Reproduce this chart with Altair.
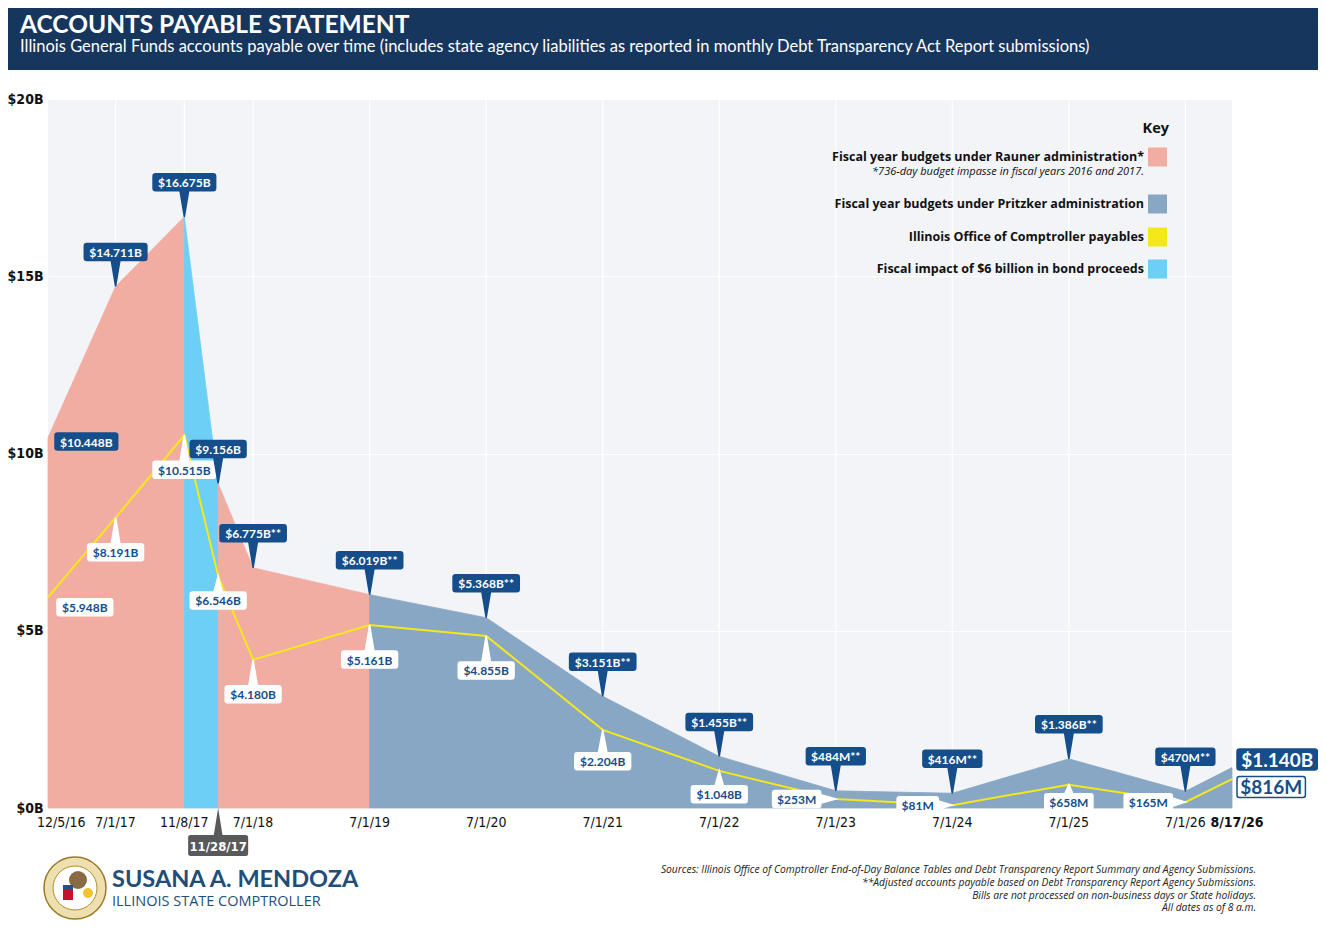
import altair as alt
import pandas as pd

# Dates along the timeline (the original spaces them schematically, not by calendar days)
dates = ["12/5/16", "7/1/17", "11/8/17", "11/28/17", "7/1/18", "7/1/19", "7/1/20",
         "7/1/21", "7/1/22", "7/1/23", "7/1/24", "7/1/25", "7/1/26", "8/17/26"]
timeline_pos = [0, 0.58, 1.17, 1.46, 1.76, 2.76, 3.76, 4.76, 5.76, 6.76, 7.76, 8.76,
                9.76, 10.16]

# Total accounts payable, $ billions
total_payables = [10.448, 14.711, 16.675, 9.156, 6.775, 6.019, 5.368, 3.151, 1.455,
                  0.484, 0.416, 1.386, 0.470, 1.140]
total_labels = ["$10.448B", "$14.711B", "$16.675B", "$9.156B", "$6.775B**", "$6.019B**",
                "$5.368B**", "$3.151B**", "$1.455B**", "$484M**", "$416M**", "$1.386B**",
                "$470M**", "$1.140B"]

# Illinois Office of Comptroller payables, $ billions
comptroller_payables = [5.948, 8.191, 10.515, 6.546, 4.180, 5.161, 4.855, 2.204, 1.048,
                        0.253, 0.081, 0.658, 0.165, 0.816]
comptroller_labels = ["$5.948B", "$8.191B", "$10.515B", "$6.546B", "$4.180B", "$5.161B",
                      "$4.855B", "$2.204B", "$1.048B", "$253M", "$81M", "$658M", "$165M",
                      "$816M"]

# shaded stretches: (period, first date index, last date index)
periods = [("Rauner", 0, 2), ("Bond", 2, 3), ("Rauner", 3, 5), ("Pritzker", 5, 13)]

key_labels = ["Fiscal year budgets under Rauner administration*",
              "Fiscal year budgets under Pritzker administration",
              "Illinois Office of Comptroller payables",
              "Fiscal impact of $6 billion in bond proceeds"]
key_note = "*736-day budget impasse in fiscal years 2016 and 2017."

sources = ["Sources: Illinois Office of Comptroller End-of-Day Balance Tables and Debt "
           "Transparency Report Summary and Agency Submissions.",
           "**Adjusted accounts payable based on Debt Transparency Report Agency Submissions.",
           "Bills are not processed on non-business days or State holidays.",
           "All dates as of 8 a.m."]

TITLE = "ACCOUNTS PAYABLE STATEMENT"
SUBTITLE = ("Illinois General Funds accounts payable over time (includes state agency "
            "liabilities as reported in monthly Debt Transparency Act Report submissions)")

PINK = "#F2ADA3"
SLATE = "#88A7C5"
CYAN = "#6DCFF5"
YELLOW = "#F4E81B"
NAVY = "#154E8A"
BANNER = "#17365D"
PLOT_BG = "#F2F4F8"
period_colors = {"Rauner": PINK, "Pritzker": SLATE, "Bond": CYAN}
key_colors = [PINK, SLATE, YELLOW, CYAN]

SANS = "Lato"
WIDE = "'Open Sans', Lato, sans-serif"
COND = "'DejaVu Sans Condensed', Roboto, sans-serif"

W, H = 1184, 709
PAD = {"left": 40, "top": 91, "right": 86, "bottom": 113}

# rough glyph widths (em) for sizing the label boxes
EM = {"$": 0.58, ".": 0.26, "B": 0.65, "M": 0.86, "*": 0.44}

# callout placement overrides: index -> (kind, pointer length / gap, vertical shift)
total_place = {0: ("right", 7, 4), 13: ("right", 5, -8)}
comp_place = {0: ("right", 9, 10), 3: ("below", 16, 0), 7: ("below", 23, 0),
              8: ("below", 15, 0), 9: ("left", 15, 0), 10: ("left", 14, 0),
              11: ("below", 9, 0), 12: ("left", 13, 0), 13: ("right", 5, 8)}


def text_width(s, size):
    return sum(EM.get(ch, 0.58) for ch in s) * size


def rounded_rect(cx, cy, w, h, r=2.5):
    x0, x1, y0, y1 = cx - w / 2, cx + w / 2, cy - h / 2, cy + h / 2
    return (f"M{x0 + r:.1f},{y0:.1f}L{x1 - r:.1f},{y0:.1f}Q{x1:.1f},{y0:.1f} {x1:.1f},{y0 + r:.1f}"
            f"L{x1:.1f},{y1 - r:.1f}Q{x1:.1f},{y1:.1f} {x1 - r:.1f},{y1:.1f}"
            f"L{x0 + r:.1f},{y1:.1f}Q{x0:.1f},{y1:.1f} {x0:.1f},{y1 - r:.1f}"
            f"L{x0:.1f},{y0 + r:.1f}Q{x0:.1f},{y0:.1f} {x0 + r:.1f},{y0:.1f}Z")


def triangle(pts):
    # same winding as the box, so the two pieces fill as one shape
    area = sum(pts[i][0] * pts[(i + 1) % 3][1] - pts[(i + 1) % 3][0] * pts[i][1]
               for i in range(3))
    if area < 0:
        pts = pts[::-1]
    return "M" + "L".join(f"{x:.1f},{y:.1f}" for x, y in pts) + "Z"


def callout_shape(kind, w, h, a, b=0):
    """Label box + pointer drawn around the data point sitting at (0, 0)."""
    tip = None
    if kind == "above":
        cx, cy = 0, -(a + h / 2)
        tip = [(-4.5, -a - 1), (4.5, -a - 1), (0, 0)]
    elif kind == "below":
        cx, cy = 0, a + h / 2
        tip = [(-4.5, a + 1), (4.5, a + 1), (0, 0)]
    elif kind == "left":
        cx, cy = -(a + w / 2), b
        tip = [(-a - 1, b - 4.5), (-a - 1, b + 4.5), (0, 0)]
    else:
        cx, cy = a + w / 2, b
    path = rounded_rect(cx, cy, w, h)
    if tip:
        path += triangle(tip)
    return path, cx, cy


def add_callouts(rows, values, labels, placement, default_kind, fill, text_color):
    for i, (v, lab) in enumerate(zip(values, labels)):
        kind, a, b = placement.get(i, (default_kind, 26, 0))
        big = i == len(values) - 1
        size = 19 if big else 12
        h = 21 if big else 17
        w = text_width(lab, size) + (8 if big else 10)
        path, cx, cy = callout_shape(kind, w, h, a, b)
        stroke = NAVY if big else fill
        rows.append(dict(pos=timeline_pos[i], value=v, path=path, fill=fill, stroke=stroke,
                         text=lab, text_color=text_color, size=size, ox=cx, oy=cy + 1))


def label(text, x, y, size, color="#111", weight="normal", style="normal",
          align="left", font=SANS, baseline="middle"):
    return alt.Chart(pd.DataFrame({"t": [text]})).mark_text(
        font=font, fontSize=size, fontWeight=weight, fontStyle=style, align=align,
        baseline=baseline, color=color
    ).encode(x=alt.value(x), y=alt.value(y), text="t:N")


def box(x, x2, y, y2, color):
    return alt.Chart(pd.DataFrame({"t": [0]})).mark_rect(color=color).encode(
        x=alt.value(x), x2=alt.value(x2), y=alt.value(y), y2=alt.value(y2))


def disc(x, y, radius, fill, stroke=None, width=1):
    props = dict(shape="circle", filled=True, size=(2 * radius) ** 2, opacity=1, fill=fill)
    if stroke:
        props.update(stroke=stroke, strokeWidth=width)
    return alt.Chart(pd.DataFrame({"t": [0]})).mark_point(**props).encode(
        x=alt.value(x), y=alt.value(y))


def main():
    points = pd.DataFrame({"date": dates, "pos": timeline_pos, "total": total_payables,
                           "comp": comptroller_payables})

    area_rows = []
    for seg, (name, start, end) in enumerate(periods):
        for i in range(start, end + 1):
            area_rows.append(dict(seg=seg, pos=timeline_pos[i], value=total_payables[i],
                                  fill=period_colors[name]))
    areas_df = pd.DataFrame(area_rows)

    callout_rows = []
    add_callouts(callout_rows, comptroller_payables, comptroller_labels, comp_place,
                 "below", "white", NAVY)
    add_callouts(callout_rows, total_payables, total_labels, total_place,
                 "above", NAVY, "white")
    callouts = pd.DataFrame(callout_rows)

    xs = alt.Scale(domain=[0, timeline_pos[-1]], nice=False, zero=False)
    ys = alt.Scale(domain=[0, 20], nice=False)
    y_axis = alt.Axis(values=[0, 5, 10, 15, 20], labelExpr="'$' + datum.value + 'B'",
                      grid=True, gridColor="white", gridWidth=1, domain=False, ticks=False,
                      labelFont=COND, labelFontWeight="bold", labelFontSize=14,
                      labelColor="#111", labelPadding=5)

    def X():
        return alt.X("pos:Q", scale=xs, axis=None)

    def Y(field):
        return alt.Y(f"{field}:Q", scale=ys, axis=y_axis, title=None, stack=None)

    # vertical white grid at the labelled dates
    grid_df = points[~points["date"].isin(["12/5/16", "11/28/17", "8/17/26"])]
    grid = alt.Chart(grid_df).mark_rule(color="white", strokeWidth=1.2).encode(X())

    area = alt.Chart(areas_df).mark_area(strokeWidth=0.8).encode(
        X(), Y("value"), detail="seg:N",
        fill=alt.Fill("fill:N", scale=None), stroke=alt.Stroke("fill:N", scale=None))

    line = alt.Chart(points).mark_line(color=YELLOW, strokeWidth=2).encode(X(), Y("comp"))

    shapes = alt.Chart(callouts).mark_point(filled=True, size=4, opacity=1,
                                            strokeWidth=1.5).encode(
        X(), Y("value"), shape=alt.Shape("path:N", scale=None),
        fill=alt.Fill("fill:N", scale=None), stroke=alt.Stroke("stroke:N", scale=None))

    # one text layer per callout so each can sit in the middle of its own box
    texts = []
    for row in callout_rows:
        texts.append(alt.Chart(pd.DataFrame([row])).mark_text(
            font=SANS, fontWeight="bold", baseline="middle", align="center",
            fontSize=row["size"], color=row["text_color"], dx=row["ox"], dy=row["oy"]
        ).encode(X(), Y("value"), text="text:N"))

    # x-axis date labels
    plain = points[~points["date"].isin(["12/5/16", "11/28/17", "8/17/26"])]
    xlabels = alt.Chart(plain).mark_text(font=COND, fontSize=14, baseline="middle",
                                         color="#111").encode(X(), y=alt.value(724), text="date:N")
    first = points[points["date"] == "12/5/16"]
    xfirst = alt.Chart(first).mark_text(font=COND, fontSize=14, baseline="middle",
                                        align="left", color="#111", dx=-11).encode(
        X(), y=alt.value(724), text="date:N")
    last = points[points["date"] == "8/17/26"]
    xlast = alt.Chart(last).mark_text(font=COND, fontSize=14, fontWeight="bold",
                                      baseline="middle", color="#111", dx=5).encode(
        X(), y=alt.value(724), text="date:N")

    # the 11/28/17 date marker hangs below the axis
    marker = points[points["date"] == "11/28/17"].copy()
    mpath, mcx, mcy = callout_shape("below", 60, 21, 27)
    marker["path"] = mpath
    marker["zero"] = 0.0
    marker_shape = alt.Chart(marker).mark_point(filled=True, size=4, opacity=1,
                                                color="#58595B").encode(
        X(), Y("zero"), shape=alt.Shape("path:N", scale=None))
    marker_text = alt.Chart(marker).mark_text(font=COND, fontWeight="bold", fontSize=13,
                                              color="white", baseline="middle",
                                              dy=mcy + 1).encode(X(), Y("zero"), text="date:N")

    # header banner
    header = [box(-PAD["left"], W + PAD["right"], -PAD["top"], -29, BANNER),
              label(TITLE, -28, -66, 24.5, "white", "bold", baseline="alphabetic"),
              label(SUBTITLE, -28, -47, 16.5, "white", baseline="alphabetic")]

    # key
    key = [label("Key", 1121, 30, 14.5, "#111", "bold", align="right", font=WIDE)]
    for text, color, yc in zip(key_labels, key_colors, [58, 105, 138, 170]):
        key.append(label(text, 1096, yc, 12.5, "#111", "bold", align="right", font=WIDE))
        key.append(box(1100, 1119, yc - 9.5, yc + 9.5, color))
    key.append(label(key_note, 1096, 73, 11, "#111", style="italic", align="right",
                     font=WIDE))

    # footer: a simple stand-in for the state seal, the comptroller's name, sources
    seal = [
        disc(27, 789, 31, "#EEDFAE", "#9C7A26", 1.5),
        disc(27, 789, 22, "white", "#B08D2E", 1),
        disc(30, 781, 9, "#8A6A45"),
        box(15, 25, 786, 791, "#2B4C8C"),
        box(15, 25, 791, 801, "#C8102E"),
        disc(40, 794, 5, "#F2C230"),
    ]
    footer = seal + [
        label("SUSANA  A.  MENDOZA", 64, 788, 23.5, "#1F4E79", "bold", baseline="alphabetic"),
        label("ILLINOIS  STATE  COMPTROLLER", 64, 807, 14.5, "#1F4E79",
              baseline="alphabetic", font=WIDE),
    ]
    for text, yc in zip(sources, [771, 784, 797, 809]):
        footer.append(label(text, 1208, yc, 10.3, "#222", style="italic", align="right",
                            font=WIDE))

    chart = alt.layer(
        grid, area, line, shapes, *texts, xlabels, xfirst, xlast, marker_shape, marker_text,
        *header, *key, *footer
    ).properties(
        width=W, height=H,
        padding=PAD,
        autosize=alt.AutoSizeParams(type="none"),
        background="white",
    ).configure_view(fill=PLOT_BG, stroke=None)

    chart.save("out.html", embed_options={"renderer": "svg", "actions": False})


if __name__ == "__main__":
    main()
